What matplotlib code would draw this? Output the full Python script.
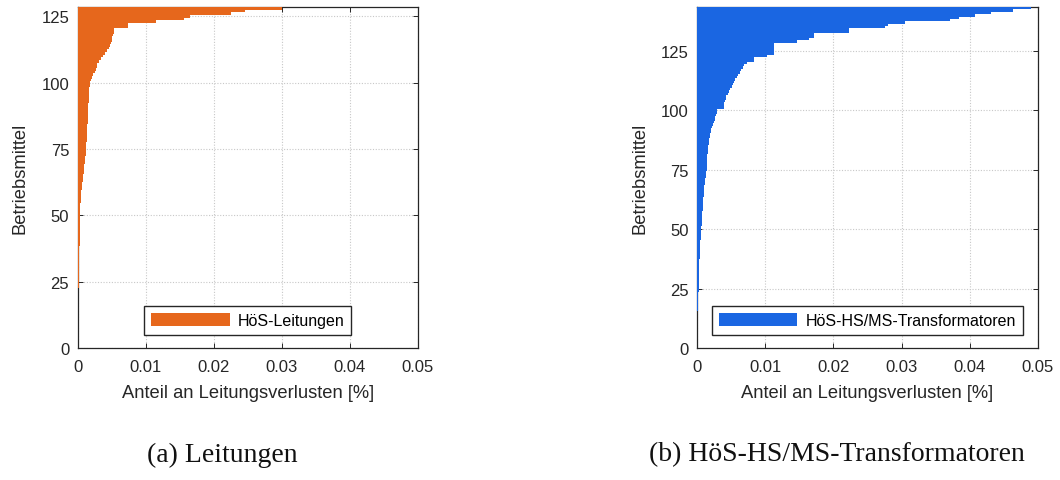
import numpy as np
import matplotlib
matplotlib.use("Agg")
import matplotlib.pyplot as plt

# ---------------- data (values in %) ----------------
leitungen = [
    0, 0, 0, 0, 0, 0, 0, 0, 0, 0, 0, 0, 0, 0, 0, 0, 0, 0, 0,
    0.00010, 0.00012, 0.00014, 0.00015, 0.00016,
    0.00017, 0.00018, 0.00019, 0.00020, 0.00021, 0.00022, 0.00023, 0.00024, 0.00025, 0.00026,
    0.00026, 0.00027, 0.00028, 0.00029, 0.00030, 0.00031, 0.00032, 0.00033, 0.00034, 0.00034,
    0.00035, 0.00036, 0.00037, 0.00038, 0.00039, 0.00040, 0.00041, 0.00042, 0.00043, 0.00044,
    0.00046, 0.00048, 0.00050, 0.00053, 0.00057, 0.00062, 0.00067, 0.00072, 0.00077, 0.00082,
    0.00086, 0.00090, 0.00094, 0.00098, 0.00102, 0.00106, 0.00110, 0.00114, 0.00118, 0.00122,
    0.00125, 0.00128, 0.00131, 0.00133, 0.00135, 0.00137, 0.00139, 0.00141, 0.00143, 0.00145,
    0.00147, 0.00149, 0.00151, 0.00153, 0.00155, 0.00157, 0.00159, 0.00161, 0.00163, 0.00165,
    0.00167, 0.00170, 0.00173, 0.00176,
    0.0018, 0.0019, 0.0020, 0.0021, 0.0023, 0.0025, 0.0027, 0.0028, 0.0029, 0.0031,
    0.0034, 0.0037, 0.0040, 0.0043, 0.0046, 0.0048, 0.0049, 0.0050, 0.0051, 0.0052,
    0.0053, 0.0054, 0.0074, 0.0074, 0.0116, 0.0157, 0.0165, 0.0226, 0.0246, 0.0300,
]

transformatoren = [
    0, 0, 0, 0, 0, 0, 0, 0, 0, 0, 0, 0, 0, 0, 0,
    0.00008, 0.00010, 0.00012, 0.00014, 0.00016, 0.00018, 0.00020, 0.00021, 0.00022, 0.00023,
    0.00024, 0.00025, 0.00026, 0.00027, 0.00028, 0.00029, 0.00030, 0.00031, 0.00032, 0.00033,
    0.00034, 0.00036, 0.00038, 0.00040, 0.00041, 0.00042, 0.00044, 0.00046, 0.00048, 0.00050,
    0.00052, 0.00055, 0.00058, 0.00060, 0.00062, 0.00064, 0.00066, 0.00069, 0.00072, 0.00075,
    0.00078, 0.00080, 0.00082, 0.00084, 0.00086, 0.00088, 0.00090, 0.00093, 0.00096, 0.00099,
    0.00102, 0.00105, 0.00108, 0.00112, 0.00116, 0.00120, 0.00125, 0.00130, 0.00135, 0.00140,
    0.00142, 0.00144, 0.00146, 0.00148, 0.00150, 0.00153, 0.00156, 0.00159, 0.00162, 0.00166,
    0.00170, 0.00175, 0.00180, 0.00185, 0.00190, 0.00200, 0.00210, 0.00220, 0.00230, 0.00245,
    0.0026, 0.0027, 0.0028, 0.0029, 0.0030,
    0.0039, 0.0040, 0.0040, 0.0041, 0.0042,
    0.0043, 0.0045, 0.0047, 0.0049, 0.0051,
    0.0053, 0.0054, 0.0056, 0.0058, 0.0060,
    0.0063, 0.0065, 0.0067, 0.0069, 0.0073,
    0.0084, 0.0084, 0.0102,
    0.0113, 0.0113, 0.0113, 0.0113, 0.0113,
    0.0147, 0.0164, 0.0171, 0.0171, 0.0223, 0.0223, 0.0275, 0.0280, 0.0305,
    0.0371, 0.0384, 0.0408, 0.0431, 0.0463, 0.0490,
]

x_ticks = [0, 0.01, 0.02, 0.03, 0.04, 0.05]
x_ticklabels = ["0", "0.01", "0.02", "0.03", "0.04", "0.05"]
y_ticks = [0, 25, 50, 75, 100, 125]

series_labels = ["HöS-Leitungen", "HöS-HS/MS-Transformatoren"]
captions = ["(a) Leitungen", "(b) HöS-HS/MS-Transformatoren"]
xlabel = "Anteil an Leitungsverlusten [%]"
ylabel = "Betriebsmittel"
colors = ["#E6671C", "#1A66E2"]

# ---------------- figure ----------------
plt.rcParams["font.family"] = ["Liberation Sans", "DejaVu Sans"]
W, H = 1060, 481
fig = plt.figure(figsize=(W / 100, H / 100), dpi=100)

axes_px = [(77.5, 8, 418, 349), (697, 8, 1038, 349)]
caption_x = [222, 837]
datasets = [leitungen, transformatoren]

for i, (vals, (x0, y0, x1, y1)) in enumerate(zip(datasets, axes_px)):
    ax = fig.add_axes([x0 / W, (H - y1) / H, (x1 - x0) / W, (y1 - y0) / H])
    n = len(vals)
    pos = np.arange(1, n + 1)
    ax.barh(pos, vals, height=1.02, color=colors[i], edgecolor="none",
            linewidth=0, label=series_labels[i], zorder=3)
    ax.set_xlim(0, 0.05)
    ax.set_ylim(0, n + 0.5)
    ax.set_xticks(x_ticks)
    ax.set_xticklabels(x_ticklabels)
    ax.set_yticks(y_ticks)
    ax.grid(True, linestyle=(0, (1, 1.5)), color="#C8C8C8", linewidth=0.8, zorder=0)
    ax.set_axisbelow(True)
    ax.tick_params(direction="in", length=3.5, width=0.7, colors="#262626",
                   labelsize=12, top=True, right=True)
    ax.tick_params(axis="x", pad=8)
    ax.tick_params(axis="y", pad=6)
    for s in ax.spines.values():
        s.set_color("#262626")
        s.set_linewidth(0.9)
    ax.set_xlabel(xlabel, fontsize=13.2, color="#262626", labelpad=7)
    ax.set_ylabel(ylabel, fontsize=13.2, color="#262626", labelpad=9)
    leg = ax.legend(loc="lower center", bbox_to_anchor=(0.5, 0.038),
                    borderaxespad=0, fontsize=11.5, handlelength=4.9,
                    handleheight=0.9, fancybox=False, framealpha=1,
                    edgecolor="#262626", borderpad=0.45, handletextpad=0.5)
    leg.get_frame().set_linewidth(1.0)
    leg.set_zorder(5)
    fig.text(caption_x[i] / W, 1 - 455 / H, captions[i], ha="center", va="center",
             fontsize=20, family=["Liberation Serif", "DejaVu Serif"], color="#111111")

fig.savefig("out.png", dpi=100, facecolor="white")
